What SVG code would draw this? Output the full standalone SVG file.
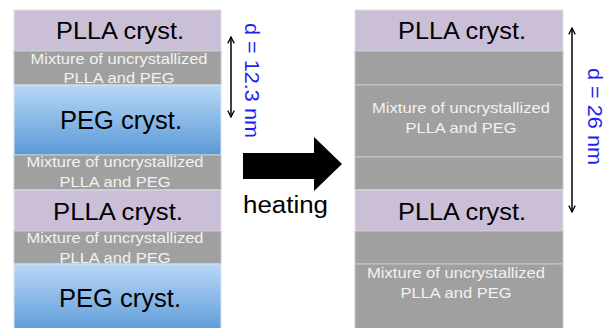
<svg xmlns="http://www.w3.org/2000/svg" width="612" height="328" viewBox="0 0 612 328">
<style>
.plla{fill:#CBBFD8;stroke:#E4DFEA;stroke-width:1}
.mix{fill:#A0A0A0;stroke:#C8C8C8;stroke-width:1}
.peg{fill:url(#pegGrad);stroke:#D8E6F4;stroke-width:1}
.big{font-family:"Liberation Sans",Arial,sans-serif;font-size:24px;fill:#000;text-anchor:middle}
.pegt{font-family:"Liberation Sans",Arial,sans-serif;font-size:26px;fill:#000;text-anchor:middle}
.small{font-family:"Liberation Sans",Arial,sans-serif;font-size:15px;fill:#F2F2F2;text-anchor:middle}
.lab{font-family:"Liberation Sans",Arial,sans-serif;font-size:20px;fill:#1F1FF0}
.conn{stroke:#000;stroke-width:1.5;fill:none}
</style>
<defs>
<linearGradient id="pegGrad" x1="0" y1="0" x2="0" y2="1">
<stop offset="0" stop-color="#B8D7F8"/>
<stop offset="1" stop-color="#5A9AD6"/>
</linearGradient>
<marker id="ah" viewBox="0 0 10 10" refX="9" refY="5" markerWidth="8" markerHeight="8" orient="auto-start-reverse" markerUnits="userSpaceOnUse">
<path d="M1,1 L9,5 L1,9" fill="none" stroke="#000" stroke-width="1.6"/>
</marker>
</defs>
<rect width="612" height="328" fill="#fff"/>

<g id="left-plla1"><rect class="plla" x="14" y="10" width="207" height="41"/><text class="big" x="120" y="39" textLength="128" lengthAdjust="spacingAndGlyphs">PLLA cryst.</text></g>
<g id="left-mix1"><rect class="mix" x="14" y="51" width="207" height="34"/><text class="small" x="119" y="64" textLength="177" lengthAdjust="spacingAndGlyphs">Mixture of uncrystallized</text><text class="small" x="119" y="83" textLength="111" lengthAdjust="spacingAndGlyphs">PLLA and PEG</text></g>
<g id="left-peg1"><rect class="peg" x="14" y="85" width="207" height="70"/><text class="pegt" x="121" y="129" textLength="122" lengthAdjust="spacingAndGlyphs">PEG cryst.</text></g>
<g id="left-mix2"><rect class="mix" x="14" y="155" width="207" height="35"/><text class="small" x="115" y="167" textLength="177" lengthAdjust="spacingAndGlyphs">Mixture of uncrystallized</text><text class="small" x="115" y="187" textLength="111" lengthAdjust="spacingAndGlyphs">PLLA and PEG</text></g>
<g id="left-plla2"><rect class="plla" x="14" y="190" width="207" height="41"/><text class="big" x="118" y="220" textLength="130" lengthAdjust="spacingAndGlyphs">PLLA cryst.</text></g>
<g id="left-mix3"><rect class="mix" x="14" y="231" width="207" height="33"/><text class="small" x="115" y="243" textLength="177" lengthAdjust="spacingAndGlyphs">Mixture of uncrystallized</text><text class="small" x="115" y="263" textLength="111" lengthAdjust="spacingAndGlyphs">PLLA and PEG</text></g>
<g id="left-peg2"><rect class="peg" x="14" y="264" width="207" height="70"/><text class="pegt" x="120" y="307" textLength="122" lengthAdjust="spacingAndGlyphs">PEG cryst.</text></g>

<g id="right-plla1"><rect class="plla" x="355" y="10" width="208" height="41"/><text class="big" x="462" y="39" textLength="128" lengthAdjust="spacingAndGlyphs">PLLA cryst.</text></g>
<g id="right-mix1"><rect class="mix" x="355" y="51" width="208" height="34"/></g>
<g id="right-mix2"><rect class="mix" x="355" y="85" width="208" height="72"/><text class="small" x="461" y="113" textLength="178" lengthAdjust="spacingAndGlyphs">Mixture of uncrystallized</text><text class="small" x="461" y="133" textLength="111" lengthAdjust="spacingAndGlyphs">PLLA and PEG</text></g>
<g id="right-mix3"><rect class="mix" x="355" y="157" width="208" height="33"/></g>
<g id="right-plla2"><rect class="plla" x="355" y="190" width="208" height="41"/><text class="big" x="462" y="220" textLength="128" lengthAdjust="spacingAndGlyphs">PLLA cryst.</text></g>
<g id="right-mix4"><rect class="mix" x="355" y="231" width="208" height="33"/></g>
<g id="right-mix5"><rect class="mix" x="355" y="264" width="208" height="70"/><text class="small" x="456" y="278" textLength="178" lengthAdjust="spacingAndGlyphs">Mixture of uncrystallized</text><text class="small" x="456" y="298" textLength="111" lengthAdjust="spacingAndGlyphs">PLLA and PEG</text></g>

<g id="connectors">
<line class="conn" x1="231" y1="37" x2="231" y2="117" marker-start="url(#ah)" marker-end="url(#ah)"/>
<line class="conn" x1="572" y1="28" x2="572" y2="212" marker-start="url(#ah)" marker-end="url(#ah)"/>
<polygon points="243,153 314,153 314,137 342,164 314,191 314,179 243,179" fill="#000"/>
</g>

<g id="labels">
<text class="lab" transform="translate(245,23) rotate(90)" textLength="115" lengthAdjust="spacingAndGlyphs">d = 12.3 nm</text>
<text class="lab" transform="translate(588,68) rotate(90)" textLength="97" lengthAdjust="spacingAndGlyphs">d = 26 nm</text>
<text x="243" y="213" font-family="Liberation Sans, Arial, sans-serif" font-size="23" fill="#000" textLength="85" lengthAdjust="spacingAndGlyphs">heating</text>
</g>
</svg>
